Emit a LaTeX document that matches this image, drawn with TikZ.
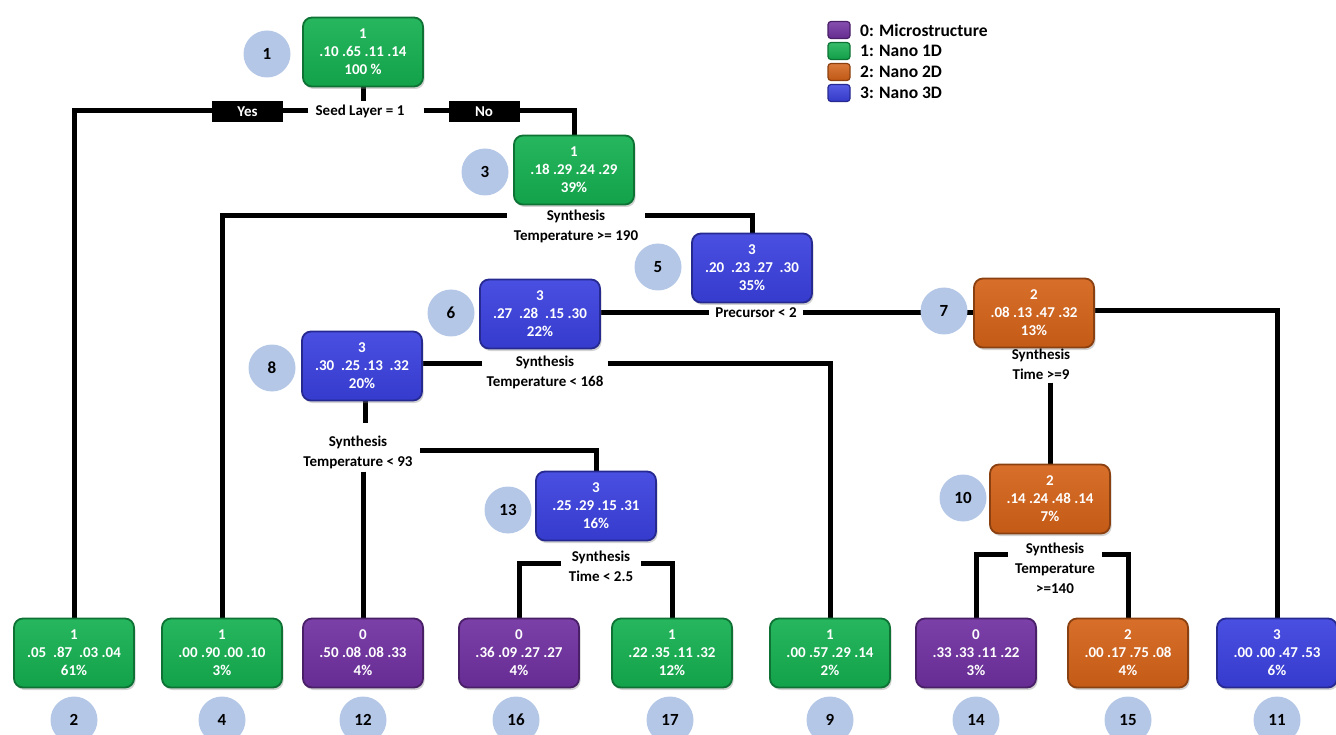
\documentclass[tikz,border=0pt]{standalone}
\usepackage{fontspec}
\setmainfont{Carlito}
\usetikzlibrary{shadows}
\pgfdeclarelayer{bg}
\pgfsetlayers{bg,main}
\definecolor{cgreen}{RGB}{20,176,80}
\definecolor{cpurple}{RGB}{112,48,160}
\definecolor{corange}{RGB}{212,98,24}
\definecolor{cblue}{RGB}{58,64,222}
\definecolor{ccirc}{RGB}{180,199,231}
\begin{document}
\begin{tikzpicture}[x=1pt,y=-1pt,
 tbox/.style={rounded corners=9pt, minimum width=120pt, minimum height=69pt, align=center, text=white,
   font=\fontsize{15}{18}\selectfont\bfseries, top color=#1!92!white, bottom color=#1!92!black, draw=#1!65!black, line width=1.8pt,
   drop shadow={shadow xshift=1.5pt,shadow yshift=-2.5pt,opacity=0.35}, inner sep=0pt},
 circ/.style={circle, fill=ccirc, minimum size=47pt, inner sep=0pt, font=\fontsize{17}{18}\selectfont\bfseries},
 split/.style={align=center, font=\fontsize{15}{20}\selectfont\bfseries, inner ysep=3pt, inner xsep=7pt},
 edge/.style={line width=5pt},
 yn/.style={fill=black, text=white, minimum width=71pt, minimum height=21pt, inner sep=0pt, font=\fontsize{15}{15}\selectfont\bfseries},
 lsq/.style={rounded corners=3pt, minimum width=22pt, minimum height=17pt, inner sep=0pt, top color=#1!85!white, bottom color=#1!90!black, draw=#1!65!black, line width=1.2pt},
 ltext/.style={anchor=west, font=\fontsize{17.5}{18}\selectfont\bfseries, inner sep=0pt}
]
\clip (0,0) rectangle (1336,735);
% internal nodes
\node[tbox=cgreen] (n1) at (363,52) {1\\.10 .65 .11 .14\\100 \%};
\node[tbox=cgreen] (n3) at (574,170) {1\\.18 .29 .24 .29\\39\%};
\node[tbox=cblue] (n5) at (752,268) {3\\.20 \ .23 .27 \ .30\\35\%};
\node[tbox=cblue] (n6) at (540,314) {3\\.27 \ .28 \ .15 .30\\22\%};
\node[tbox=corange] (n7) at (1034,313) {2\\.08 .13 .47 .32\\13\%};
\node[tbox=cblue] (n8) at (362,366) {3\\.30 \ .25 .13 \ .32\\20\%};
\node[tbox=corange] (n10) at (1050,499) {2\\.14 .24 .48 .14\\7\%};
\node[tbox=cblue] (n13) at (596,506) {3\\.25 .29 .15 .31\\16\%};
% leaves
\node[tbox=cgreen] (n2) at (74,653) {1\\.05 \ .87 \ .03 .04\\61\%};
\node[tbox=cgreen] (n4) at (222,653) {1\\.00 .90 .00 .10\\3\%};
\node[tbox=cpurple] (n12) at (363,653) {0\\.50 .08 .08 .33\\4\%};
\node[tbox=cpurple] (n16) at (519,653) {0\\.36 .09 .27 .27\\4\%};
\node[tbox=cgreen] (n17) at (672,653) {1\\.22 .35 .11 .32\\12\%};
\node[tbox=cgreen] (n9) at (830,653) {1\\.00 .57 .29 .14\\2\%};
\node[tbox=cpurple] (n14) at (976,653) {0\\.33 .33 .11 .22\\3\%};
\node[tbox=corange] (n15) at (1128,653) {2\\.00 .17 .75 .08\\4\%};
\node[tbox=cblue] (n11) at (1277,653) {3\\.00 .00 .47 .53\\6\%};
% circles
\node[circ] (c1) at (267,54) {1};
\node[circ] (c3) at (485,172) {3};
\node[circ] (c5) at (658,267) {5};
\node[circ] (c6) at (451,313) {6};
\node[circ] (c7) at (944,311) {7};
\node[circ] (c8) at (272,368) {8};
\node[circ] (c10) at (963,498) {10};
\node[circ] (c13) at (508,510) {13};
\node[circ] (c2) at (74,720) {2};
\node[circ] (c4) at (222,720) {4};
\node[circ] (c12) at (363,720) {12};
\node[circ] (c16) at (516,720) {16};
\node[circ] (c17) at (670,720) {17};
\node[circ] (c9) at (830,720) {9};
\node[circ] (c14) at (976,720) {14};
\node[circ] (c15) at (1128,720) {15};
\node[circ] (c11) at (1277,720) {11};
% split labels
\node[split] (s1) at (360,111) {Seed Layer = 1};
\node[yn] (yes) at (247.5,111.5) {Yes};
\node[yn] (no) at (484,111.5) {No};
\node[split] (s3) at (576,226) {Synthesis\\Temperature >= 190};
\node[split, inner xsep=6pt] (s5) at (756,313) {Precursor < 2};
\node[split, inner xsep=4pt] (s6) at (545,372) {Synthesis\\Temperature < 168};
\node[split] (s7) at (1041,364) {Synthesis\\Time >=9};
\node[split] (s8) at (358,452) {Synthesis\\Temperature < 93};
\node[split, inner xsep=8pt] (s13) at (601,566) {Synthesis\\Time < 2.5};
\node[split] (s10) at (1055,568) {Synthesis\\Temperature\\>=140};
% legend
\node[lsq=cpurple] (l0) at (839,30) {};
\node[lsq=cgreen] (l1) at (839,51) {};
\node[lsq=corange] (l2) at (839,72) {};
\node[lsq=cblue] (l3) at (839,93) {};
\node[ltext] (t0) at (860,30) {0: Microstructure};
\node[ltext] (t1) at (860,51) {1: Nano 1D};
\node[ltext] (t2) at (860,72) {2: Nano 2D};
\node[ltext] (t3) at (860,93) {3: Nano 3D};
% edges
\begin{pgfonlayer}{bg}
\draw[edge] (n1.south) -- (n1.south |- s1.north);
\draw[edge] (s1.west) -| (n2.north);
\draw[edge] ([xshift=12pt]s1.east) -| (n3.north);
\draw[edge] ([yshift=10pt]s3.west) -| (n4.north);
\draw[edge] ([yshift=10pt]s3.east) -| (n5.north);
\draw[edge] (s5.west) -- (s5.west -| n6.east);
\draw[edge] (s5.east) -- (s5.east -| n7.west);
\draw[edge] ([yshift=2pt]n7.east) -| (n11.north);
\draw[edge] (n10.north |- s7.south) -- (n10.north);
\draw[edge] ([yshift=9pt]s6.west) -- ([yshift=9pt]s6.west -| n8.east);
\draw[edge] ([yshift=9pt]s6.east) -| (n9.north);
\draw[edge] ([xshift=3pt]n8.south) -- ([xshift=3pt,yshift=9pt]n8.south |- s8.north);
\draw[edge] ([yshift=2pt]s8.east) -| (n13.north);
\draw[edge] (n12.north |- s8.south) -- (n12.north);
\draw[edge] ([yshift=3pt]s13.west) -| (n16.north);
\draw[edge] ([yshift=3pt]s13.east) -| (n17.north);
\draw[edge] ([yshift=14pt]s10.west) -| (n14.north);
\draw[edge] ([yshift=14pt]s10.east) -| (n15.north);
\end{pgfonlayer}
\end{tikzpicture}
\end{document}
